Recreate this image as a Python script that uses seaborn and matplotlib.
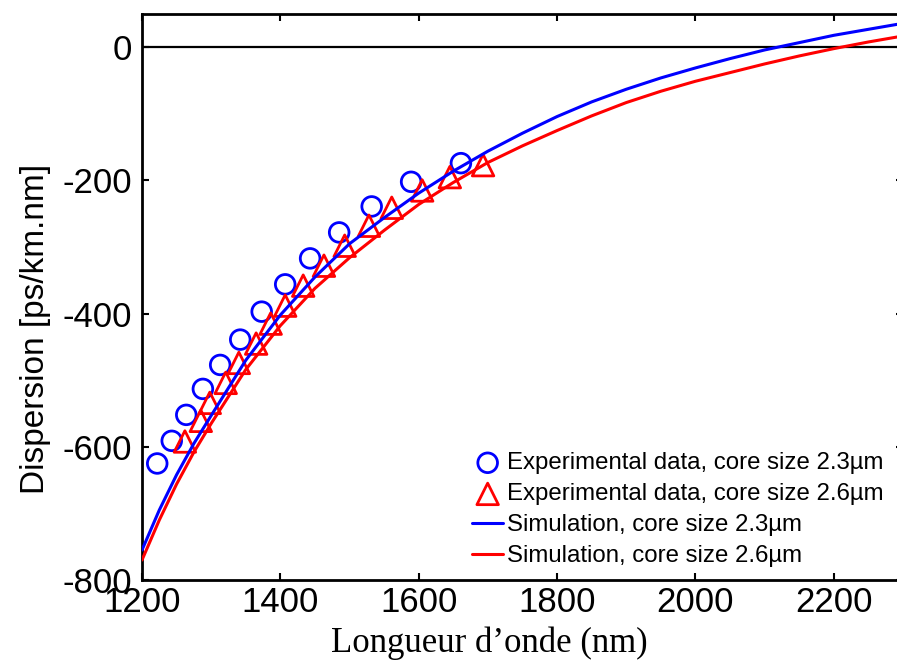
import numpy as np
import pandas as pd
import seaborn as sns
import matplotlib
matplotlib.use('Agg')
import matplotlib.pyplot as plt

# --- data ---
exp_23_wl = [1222, 1243, 1264, 1288, 1313, 1342, 1373, 1407, 1443, 1485, 1532, 1589, 1661]
exp_23_disp = [-625, -591, -552, -513, -477, -439, -397, -356, -317, -278, -239, -202, -174]

exp_26_wl = [1262, 1285, 1298, 1321, 1340, 1365, 1386, 1407, 1433, 1463, 1493,
             1528, 1561, 1605, 1645, 1693]
exp_26_disp = [-592, -561, -534, -504, -474, -445, -415, -388, -358, -328, -298,
               -268, -241, -215, -195, -177]

sim_wl = [1200, 1225, 1250, 1275, 1300, 1350, 1400, 1450, 1500, 1550, 1600, 1650, 1700,
          1750, 1800, 1850, 1900, 1950, 2000, 2050, 2100, 2150, 2200, 2250, 2300]
sim_23_disp = [-755, -695, -642, -595, -553, -470, -402, -345, -295, -256, -219, -186,
               -156, -129, -104, -82, -63, -46, -31, -17, -4, 7, 18, 27, 36]
sim_26_disp = [-770, -710, -656, -608, -565, -484, -418, -362, -316, -275, -236, -203,
               -173, -148, -125, -103, -83, -66, -51, -38, -25, -13, -2, 8, 17]

labels = ['Experimental data, core size 2.3\u00b5m',
          'Experimental data, core size 2.6\u00b5m',
          'Simulation, core size 2.3\u00b5m',
          'Simulation, core size 2.6\u00b5m']

x_ticks = [1200, 1400, 1600, 1800, 2000, 2200]
y_ticks = [-800, -600, -400, -200, 0]

# --- style ---
sns.set_style('ticks')
plt.rcParams['font.family'] = ['Liberation Sans', 'DejaVu Sans']
plt.rcParams['axes.unicode_minus'] = False
plt.rcParams['text.color'] = 'black'
plt.rcParams['axes.labelcolor'] = 'black'

fig = plt.figure(figsize=(8.97, 6.62), dpi=100)
ax = fig.add_axes([142 / 897, 82 / 662, 761 / 897, 566 / 662])

blue = '#0000ff'
red = '#ff0000'

# zero line
ax.axhline(0, color='black', linewidth=1.6, zorder=1)

sns.scatterplot(x=exp_23_wl, y=exp_23_disp, marker='o', s=200, facecolor='none',
                edgecolor=blue, linewidth=2, label=labels[0], ax=ax, zorder=3)
sns.scatterplot(x=exp_26_wl, y=exp_26_disp, marker='^', s=240, facecolor='none',
                edgecolor=red, linewidth=2, label=labels[1], ax=ax, zorder=3)
sns.lineplot(x=sim_wl, y=sim_23_disp, color=blue, linewidth=2.2, label=labels[2],
             ax=ax, zorder=4)
sns.lineplot(x=sim_wl, y=sim_26_disp, color=red, linewidth=2.2, label=labels[3],
             ax=ax, zorder=4)

ax.set_xlim(1200, 2300)
ax.set_ylim(-800, 50)
ax.set_xticks(x_ticks)
ax.set_yticks(y_ticks)
ax.tick_params(direction='in', length=5, width=1.5, top=True, right=True,
               labelsize=25, colors='black')
ax.tick_params(axis='x', pad=4)
ax.tick_params(axis='y', pad=7)
for side in ax.spines.values():
    side.set_linewidth(2)
    side.set_color('black')

ax.set_xlabel('Longueur d\u2019onde (nm)', fontsize=25, color='black',
              family=['Liberation Serif', 'DejaVu Serif'])
ax.set_ylabel('Dispersion [ps/km.nm]', fontsize=24, color='black')
ax.xaxis.set_label_coords(0.457, -0.082)
ax.yaxis.set_label_coords(-0.12, 0.443)

handles, labs = ax.get_legend_handles_labels()
order = [labs.index(l) for l in labels]
leg = ax.legend([handles[i] for i in order], [labs[i] for i in order],
                loc='upper left', bbox_to_anchor=(0.4337, 0.226), frameon=False,
                fontsize=17.3, handlelength=1.3, handletextpad=0.15, labelspacing=0.38,
                borderpad=0, borderaxespad=0)
for t in leg.get_texts():
    t.set_color('black')

fig.savefig('out.png', dpi=100)
